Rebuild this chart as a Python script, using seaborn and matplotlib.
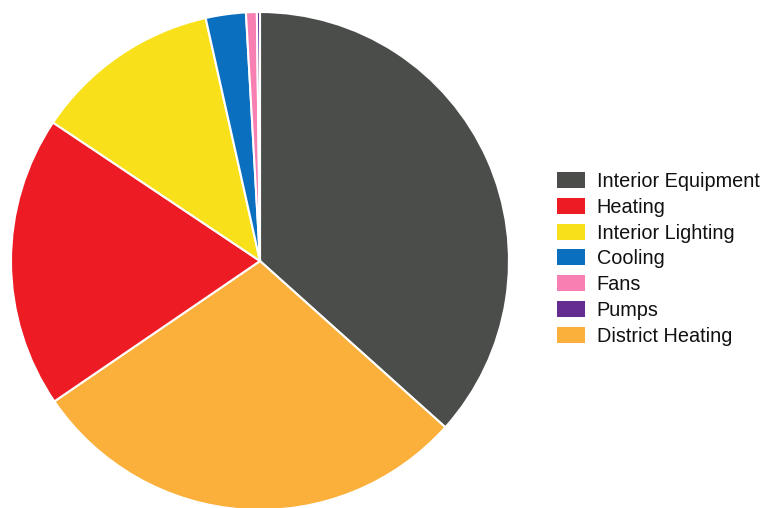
import matplotlib
matplotlib.use("Agg")
import matplotlib.pyplot as plt
import matplotlib.patches as mpatches
import seaborn as sns

# End-use energy shares (percent), in the order the wedges are drawn clockwise from the top
wedge_labels = ["Interior Equipment", "District Heating", "Heating", "Interior Lighting",
                "Cooling", "Fans", "Pumps"]
wedge_shares = [36.6, 28.8, 18.9, 12.1, 2.6, 0.7, 0.2]

# Legend order
legend_order = ["Interior Equipment", "Heating", "Interior Lighting", "Cooling",
                "Fans", "Pumps", "District Heating"]

colors = {
    "Interior Equipment": "#4a4d4a",
    "Heating": "#ed1c24",
    "Interior Lighting": "#f8e11b",
    "Cooling": "#0a6fbe",
    "Fans": "#f77fb1",
    "Pumps": "#662d91",
    "District Heating": "#fbb03b",
}

sns.set_theme(style="white")
plt.rcParams["font.family"] = ["Liberation Sans", "DejaVu Sans"]

fig = plt.figure(figsize=(7.63, 5.08), dpi=100)
ax = fig.add_axes([11 / 763, -2 / 508, 498 / 763, 498 / 508])

palette = sns.color_palette([colors[k] for k in wedge_labels])
ax.pie(wedge_shares, colors=palette, startangle=90, counterclock=False, radius=1,
       wedgeprops=dict(edgecolor="white", linewidth=1.5))
ax.set_xlim(-1, 1)
ax.set_ylim(-1, 1)
ax.set_aspect("equal")
ax.axis("off")

handles = [mpatches.Patch(facecolor=colors[k], edgecolor="none") for k in legend_order]
fig.legend(handles, legend_order, loc="upper left", bbox_to_anchor=(557 / 763, 1 - 172 / 508),
           frameon=False, fontsize=14.3, handlelength=1.4, handleheight=0.85,
           labelspacing=0.34, handletextpad=0.6, borderaxespad=0, borderpad=0,
           labelcolor="#111111")

fig.savefig("out.png", dpi=100, facecolor="white")
